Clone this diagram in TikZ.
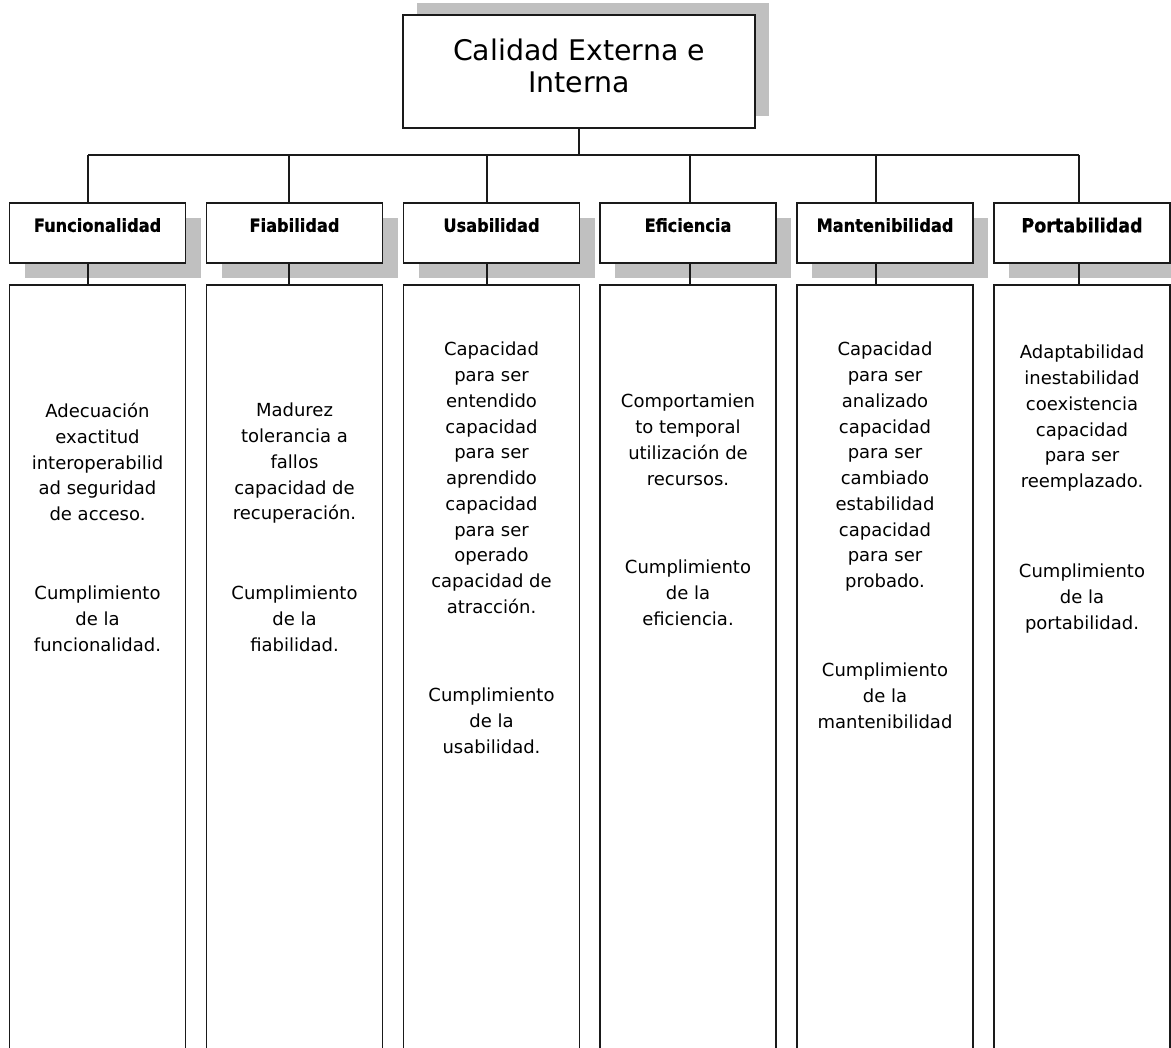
\documentclass[tikz,border=0pt]{standalone}
\usepackage{fontspec}
\setmainfont{DejaVu Sans}
\newfontfamily\headfont{DejaVu Sans Bold}[FakeStretch=0.9, FakeBold=0.8]
\usepackage{xcolor}
\definecolor{LineDark}{HTML}{1A1A1A}
\definecolor{ShadowGray}{HTML}{C0C0C0}
\usetikzlibrary{shadows, positioning}

\begin{document}
\begin{tikzpicture}[
  x=0.75pt, y=-0.75pt,
  % === STILE ===
  % Hauptbox oben
  topbox/.style={
    draw=LineDark,
    line width=1.4pt,
    fill=white,
    minimum width=264pt,
    minimum height=84.75pt,
    align=center,
    text depth=9pt,
    font=\fontsize{21.3pt}{24pt}\selectfont,
    drop shadow={shadow xshift=10.5pt, shadow yshift=9pt, fill=ShadowGray, opacity=1}
  },
  % Kopfbox je Merkmal
  header/.style={
    draw=LineDark,
    line width=1.4pt,
    fill=white,
    minimum width=132pt,
    minimum height=45pt,
    text depth=12pt,
    font=\headfont\fontsize{13.5pt}{16pt}\selectfont,
    drop shadow={shadow xshift=11.25pt, shadow yshift=-11.25pt, fill=ShadowGray, opacity=1}
  },
  % lange Spalte darunter
  body/.style={
    draw=LineDark,
    line width=1.4pt,
    fill=white,
    minimum width=132pt,
    minimum height=581.25pt
  },
  % Text in den Spalten
  txt/.style={
    font=\fontsize{13.5pt}{19.3pt}\selectfont,
    align=center,
    inner sep=0pt,
    anchor=north
  },
  % Verbindungslinien
  conn/.style={
    draw=LineDark,
    line width=1.2pt
  }
]

% =============================================================================
% HINTERGRUND
% =============================================================================
\useasboundingbox (0,0) rectangle (1171,1048);
\clip (0,0) rectangle (1171,1048);
\fill[white] (0,0) rectangle (1171,1048);

% =============================================================================
% OBERSTE BOX
% =============================================================================
\node[topbox] (top) at (579,71.5) {Calidad Externa e\\Interna};

% =============================================================================
% SPALTEN: Kopf, Körper, Verbinder
% =============================================================================
\foreach \i/\cx/\jx/\name in {1/97.5/88/Funcionalidad, 2/294.5/289/Fiabilidad,
    3/491.5/487/Usabilidad, 4/688/690/Eficiencia, 5/885/876/Mantenibilidad,
    6/1082/1079/{\fontsize{14.6pt}{16pt}\selectfont Portabilidad}} {
  \node[header] (h\i) at (\cx,233) {\name};
  \node[body] (b\i) at (\cx,672.5) {};
  \coordinate (j\i) at (\jx,155);
  \draw[conn] (j\i) -- (j\i |- h\i.north);
  \draw[conn] (j\i |- h\i.south) -- (j\i |- b\i.north);
}

% --- Sammelleitung ---
\draw[conn] (j1) -- (j6);
\draw[conn] (top.south) -- (top.south |- j1);

% =============================================================================
% TEXTE
% =============================================================================
\node[txt] (d1) at (97.5,403) {Adecuación\\exactitud\\interoperabilid\\ad seguridad\\de acceso.};
\node[txt] (k1) at (97.5,586) {Cumplimiento\\de la\\funcionalidad.};

\node[txt] (d2) at (294.5,403) {Madurez\\tolerancia a\\fallos\\capacidad de\\recuperación.};
\node[txt] (k2) at (294.5,586) {Cumplimiento\\de la\\fiabilidad.};

\node[txt] (d3) at (491.5,342) {Capacidad\\para ser\\entendido\\capacidad\\para ser\\aprendido\\capacidad\\para ser\\operado\\capacidad de\\atracción.};
\node[txt] (k3) at (491.5,688) {Cumplimiento\\de la\\usabilidad.};

\node[txt] (d4) at (688,394) {Comportamien\\to temporal\\utilización de\\recursos.};
\node[txt] (k4) at (688,560) {Cumplimiento\\de la\\eficiencia.};

\node[txt] (d5) at (885,342) {Capacidad\\para ser\\analizado\\capacidad\\para ser\\cambiado\\estabilidad\\capacidad\\para ser\\probado.};
\node[txt] (k5) at (885,663) {Cumplimiento\\de la\\mantenibilidad};

\node[txt] (d6) at (1082,345) {Adaptabilidad\\inestabilidad\\coexistencia\\capacidad\\para ser\\reemplazado.};
\node[txt] (k6) at (1082,564) {Cumplimiento\\de la\\portabilidad.};

\end{tikzpicture}
\end{document}
